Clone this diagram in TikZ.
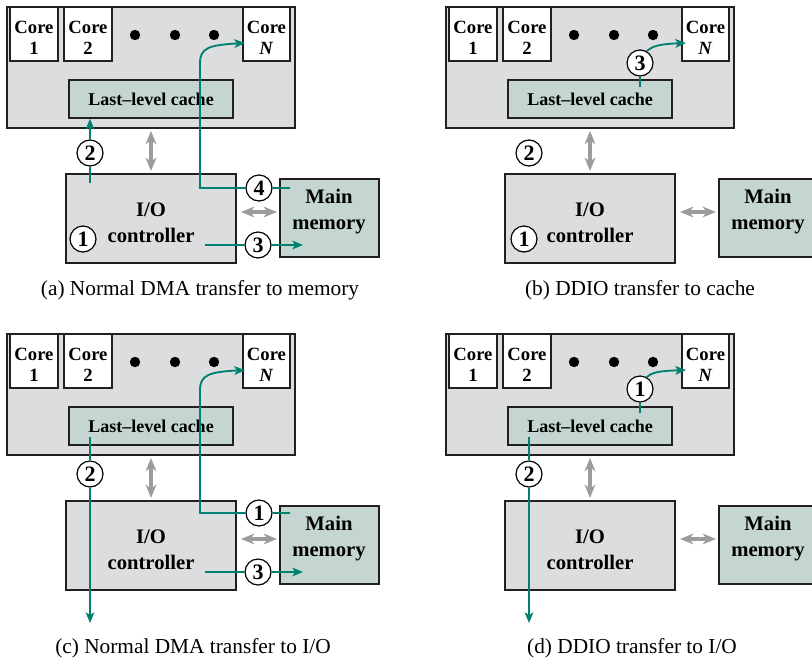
\documentclass[tikz,border=0pt]{standalone}
\usepackage{fontspec}
\setmainfont{Liberation Serif}
\usetikzlibrary{arrows.meta}
\definecolor{chipgray}{HTML}{DCDDDE}
\definecolor{cachefill}{HTML}{C4D5D2}
\definecolor{flowgreen}{HTML}{00806F}
\definecolor{busgray}{HTML}{9C9C9C}
\definecolor{edgeblack}{HTML}{231F20}
\newcommand{\corestrut}{\rule{0pt}{15pt}}
\begin{document}
\begin{tikzpicture}[x=0.75pt,y=-0.75pt,
  pxsize/.style 2 args={minimum width={#1*0.75pt}, minimum height={#2*0.75pt}},
  chip/.style={draw=edgeblack, fill=chipgray, line width=1.3pt, inner sep=0pt},
  corebox/.style={draw=edgeblack, fill=white, line width=0.9pt, inner sep=0pt, align=center,
    font=\bfseries\fontsize{14}{16}\selectfont},
  cachebox/.style={draw=edgeblack, fill=cachefill, line width=1pt, inner sep=0pt,
    font=\bfseries\fontsize{13.5}{16}\selectfont},
  iobox/.style={draw=edgeblack, fill=chipgray, line width=1.5pt, inner sep=0pt},
  membox/.style={draw=edgeblack, fill=cachefill, line width=1.5pt, inner sep=0pt},
  boxtext/.style={align=center, inner sep=0pt, font=\bfseries\fontsize{15.5}{19.5}\selectfont},
  num/.style={circle, draw=black, fill=white, line width=0.9pt, minimum size=19.5pt,
    inner sep=0pt, font=\bfseries\fontsize{16.5}{16.5}\selectfont},
  flow/.style={draw=flowgreen, line width=1.4pt},
  flowarr/.style={flow, -{Stealth[length=8pt,width=6.5pt,inset=2pt]}},
  bus/.style={draw=busgray, line width=2.4pt,
    {Stealth[length=10pt,width=8pt,inset=3pt]}-{Stealth[length=10pt,width=8pt,inset=3pt]}},
  capt/.style={inner sep=0pt, font=\fontsize{16}{19}\selectfont},
  blackdot/.style={circle, fill=black, minimum size=7.8pt, inner sep=0pt}]
\useasboundingbox (0,0) rectangle (812,661);
\clip (0,0) rectangle (812,661);

\foreach \p/\dx/\dy in {a/0/0, b/439/0, c/0/327, d/439/327}{
  \begin{scope}[shift={(\dx,\dy)}]
    \node[chip, pxsize={288}{121}] (\p-out) at (151,67.5) {};
    \node[corebox, pxsize={48}{54}] (\p-core1) at (34,34) {\corestrut Core\\1};
    \node[corebox, pxsize={48}{54}] (\p-core2) at (88,34) {\corestrut Core\\2};
    \node[corebox, pxsize={47}{54}] (\p-coreN) at (266.5,34) {\corestrut Core\\\textit{N}};
    \node[blackdot] (\p-dot1) at (135,35) {};
    \node[blackdot] (\p-dot2) at (175,35) {};
    \node[blackdot] (\p-dot3) at (214,35) {};
    \node[cachebox, pxsize={164}{38}] (\p-llc) at (151,99) {Last–level cache};
    \node[iobox, pxsize={170}{89}] (\p-io) at (151,218.5) {};
    \node[boxtext] (\p-iotext) at (151,222.5) {I/O\\controller};
    \node[membox, pxsize={99}{78}] (\p-mm) at (329.5,218) {};
    \node[boxtext] (\p-mmtext) at (329,212) {Main\\memory};
    \draw[bus, shorten <=1.5pt, shorten >=1.5pt] (\p-out.south) -- (\p-io.north);
    \draw[bus, shorten <=3pt, shorten >=1.5pt] ([yshift=4.9pt]\p-io.east) -- ([yshift=4.9pt]\p-io.east -| \p-mm.west);
  \end{scope}
}

% (a) Normal DMA transfer to memory
\node[num] (a-n1) at (83,239) {1};
\node[num] (a-n2) at (90,153) {2};
\node[num] (a-n3) at (258,245) {3};
\node[num] (a-n4) at (259,188) {4};
\coordinate (a-s2) at (90,183);
\coordinate (a-m4) at (290,188);
\coordinate (a-k4) at (200,188);
\coordinate (a-tip) at (245,43);
\coordinate (a-s3) at (205,245);
\coordinate (a-e3) at (303,245);
\draw[flow] (a-s2) -- (a-n2);
\draw[flowarr] (a-n2) -- (a-n2 |- a-llc.south);
\draw[flow] (a-m4) -- (a-n4);
\draw[flowarr] (a-n4) -- (a-k4) -- (200,63) .. controls (200,48) and (209,45) .. (a-tip);
\draw[flow] (a-s3) -- (a-n3);
\draw[flowarr] (a-n3) -- (a-e3);
\node[capt] (a-cap) at (200,290) {(a) Normal DMA transfer to memory};

% (b) DDIO transfer to cache
\node[num] (b-n1) at (524,239) {1};
\node[num] (b-n2) at (529,153) {2};
\node[num] (b-n3) at (640,63) {3};
\coordinate (b-s3) at (640,87);
\coordinate (b-tip) at (686,43);
\draw[flow] (b-s3) -- (b-n3);
\draw[flowarr] (b-n3.60) .. controls (652,46) and (660,44) .. (b-tip);
\node[capt] (b-cap) at (640,290) {(b) DDIO transfer to cache};

% (c) Normal DMA transfer to I/O
\node[num] (c-n1) at (259,513) {1};
\node[num] (c-n2) at (90,474) {2};
\node[num] (c-n3) at (258,572) {3};
\coordinate (c-m1) at (290,513);
\coordinate (c-k1) at (200,513);
\coordinate (c-tip) at (245,370);
\coordinate (c-s2) at (90,437);
\coordinate (c-e2) at (90,623);
\coordinate (c-s3) at (205,572);
\coordinate (c-e3) at (303,572);
\draw[flow] (c-m1) -- (c-n1);
\draw[flowarr] (c-n1) -- (c-k1) -- (200,390) .. controls (200,375) and (209,372) .. (c-tip);
\draw[flow] (c-s2) -- (c-n2);
\draw[flowarr] (c-n2) -- (c-e2);
\draw[flow] (c-s3) -- (c-n3);
\draw[flowarr] (c-n3) -- (c-e3);
\node[capt] (c-cap) at (193,648) {(c) Normal DMA transfer to I/O};

% (d) DDIO transfer to I/O
\node[num] (d-n1) at (640,389) {1};
\node[num] (d-n2) at (529,474) {2};
\coordinate (d-s1) at (640,413);
\coordinate (d-tip) at (686,370);
\coordinate (d-s2) at (529,437);
\coordinate (d-e2) at (529,623);
\draw[flow] (d-s1) -- (d-n1);
\draw[flowarr] (d-n1.60) .. controls (652,372) and (660,371) .. (d-tip);
\draw[flow] (d-s2) -- (d-n2);
\draw[flowarr] (d-n2) -- (d-e2);
\node[capt] (d-cap) at (632,648) {(d) DDIO transfer to I/O};
\end{tikzpicture}
\end{document}
